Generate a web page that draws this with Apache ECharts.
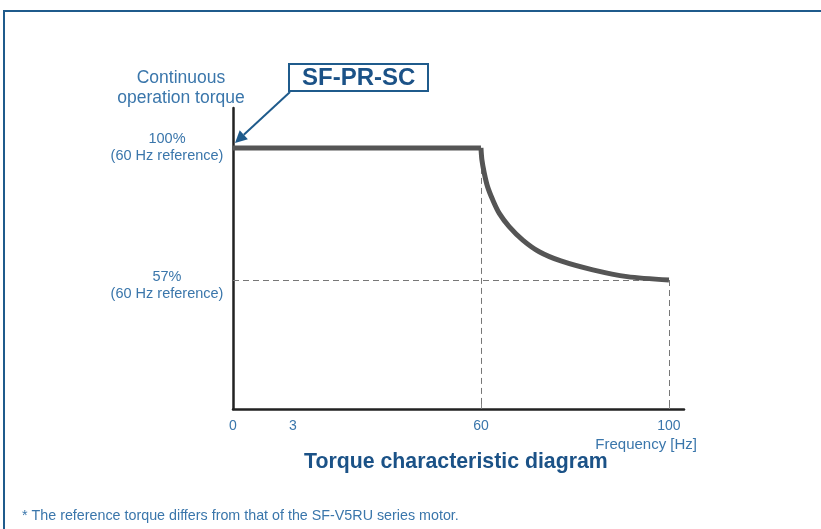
<!DOCTYPE html>
<html>
<head>
<meta charset="utf-8">
<script src="https://cdn.jsdelivr.net/npm/echarts@6/dist/echarts.min.js"></script>
<style>
  html, body { margin: 0; padding: 0; background: #fff; }
  #chart { width: 821px; height: 529px; }
</style>
</head>
<body>
<div id="chart"></div>
<script>
// data
const freq = [0, 60, 60.2, 60.7, 61.4, 62.5, 63.9, 66.0, 68.9, 72.4, 77.0, 83.8, 91.1, 100];
const torque = [100, 100, 96.1, 91.8, 87.4, 83.1, 78.7, 74.4, 70.0, 66.2, 63.2, 60.3, 58.1, 57];
const freqTicks = [0, 3, 60, 100];
const torqueTicks = [100, 57];
const torqueNames = ['100%', '57%'];

// schematic x scale: the diagram is not linear in Hz
const warpAt = [0, 0.319, 1.319, 2.319];
function warp(f) {
  for (let i = 1; i < freqTicks.length; i++) {
    if (f <= freqTicks[i]) {
      const a = freqTicks[i - 1], b = freqTicks[i];
      return warpAt[i - 1] + (f - a) / (b - a) * (warpAt[i] - warpAt[i - 1]);
    }
  }
  return warpAt[warpAt.length - 1];
}

const blue = '#3a76ab';
const darkBlue = '#1b5287';
const frame = '#1f5b8c';
const font = 'Liberation Sans, Arial, sans-serif';

const chart = echarts.init(document.getElementById('chart'));
const pts = freq.map((f, i) => [warp(f), torque[i]]);
const yMin = 15, yMax = 113;
// labels sit slightly off their lines, as in the original
const labelNudge = [0.3, -1.9];

chart.setOption({
  animation: false,
  textStyle: { fontFamily: font },
  grid: { left: 233, right: 137, top: 108, bottom: 120 },
  title: [
    { text: 'Continuous\noperation torque', left: 181, top: 68, textAlign: 'center', padding: 0,
      textStyle: { fontSize: 17.5, fontWeight: 'normal', color: blue, lineHeight: 20, fontFamily: font } },
    { text: 'SF-PR-SC', left: 289, top: 64, padding: [2, 13, 1, 13],
      borderColor: frame, borderWidth: 2,
      textStyle: { fontSize: 24, fontWeight: 'bold', color: darkBlue, fontFamily: font } },
    { text: 'Frequency [Hz]', right: 124, top: 437, padding: 0,
      textStyle: { fontSize: 15, fontWeight: 'normal', color: blue, fontFamily: font } },
    { text: 'Torque characteristic diagram', left: 304, top: 452, padding: 0,
      textStyle: { fontSize: 21.3, fontWeight: 'bold', color: darkBlue, fontFamily: font } },
    { text: '* The reference torque differs from that of the SF-V5RU series motor.', left: 22, top: 509, padding: 0,
      textStyle: { fontSize: 14.3, fontWeight: 'normal', color: blue, fontFamily: font } }
  ],
  xAxis: {
    type: 'value', min: 0, max: 2.399,
    axisLine: { lineStyle: { color: '#222', width: 2.5 } },
    axisTick: { show: true, inside: true, length: 7, lineStyle: { color: '#888', width: 1 },
      customValues: [warp(60), warp(100)] },
    axisLabel: { customValues: freqTicks.map(warp), margin: 10, fontSize: 14, color: blue, fontFamily: font,
      formatter: v => { const i = warpAt.findIndex(w => Math.abs(w - v) < 1e-6); return i >= 0 ? String(freqTicks[i]) : ''; } },
    splitLine: { show: false }
  },
  yAxis: {
    type: 'value', min: yMin, max: yMax,
    axisLine: { show: true, lineStyle: { color: '#222', width: 2.5 } },
    axisTick: { show: false },
    splitLine: { show: false },
    axisLabel: {
      customValues: torqueTicks.map((t, i) => t + labelNudge[i]), align: 'center', margin: 66,
      fontSize: 14.5, lineHeight: 17, color: blue, fontFamily: font,
      formatter: v => {
        const i = torqueTicks.findIndex((t, k) => Math.abs(t + labelNudge[k] - v) < 1e-6);
        return i >= 0 ? torqueNames[i] + '\n(60 Hz reference)' : '';
      }
    }
  },
  series: [{
    // flat part up to the base frequency
    type: 'line',
    data: pts.slice(0, 2),
    symbol: 'none',
    lineStyle: { color: '#555', width: 5 },
    z: 5
  }, {
    // falling part above the base frequency
    type: 'line',
    data: pts.slice(1),
    smooth: 0.3,
    symbol: 'none',
    lineStyle: { color: '#555', width: 5 },
    z: 5,
    markLine: {
      silent: true, symbol: 'none', label: { show: false },
      lineStyle: { color: '#777', type: [6, 4], width: 1 },
      data: [
        [{ coord: [warp(60), 100] }, { coord: [warp(60), yMin] }],
        [{ coord: [0, 57] }, { coord: [warp(100), 57] }],
        [{ coord: [warp(100), 57] }, { coord: [warp(100), yMin] }]
      ]
    }
  }]
});

// frame and pointer arrow
const tip = chart.convertToPixel({ gridIndex: 0 }, [0, 100]);
const ex = tip[0] + 2, ey = tip[1] - 5;
const sx = 290, sy = 92;
const dx = ex - sx, dy = ey - sy, len = Math.hypot(dx, dy);
const ux = dx / len, uy = dy / len;
const hl = 12, hw = 6;
const bx = ex - ux * hl, by = ey - uy * hl;
chart.setOption({
  graphic: [
    { type: 'rect', shape: { x: 4, y: 11, width: 900, height: 600 },
      style: { fill: null, stroke: frame, lineWidth: 2 }, silent: true },
    { type: 'line', shape: { x1: sx, y1: sy, x2: bx, y2: by },
      style: { stroke: frame, lineWidth: 2 } },
    { type: 'polygon', shape: { points: [[ex, ey], [bx - uy * hw, by + ux * hw], [bx + uy * hw, by - ux * hw]] },
      style: { fill: frame } }
  ]
});
</script>
</body>
</html>
